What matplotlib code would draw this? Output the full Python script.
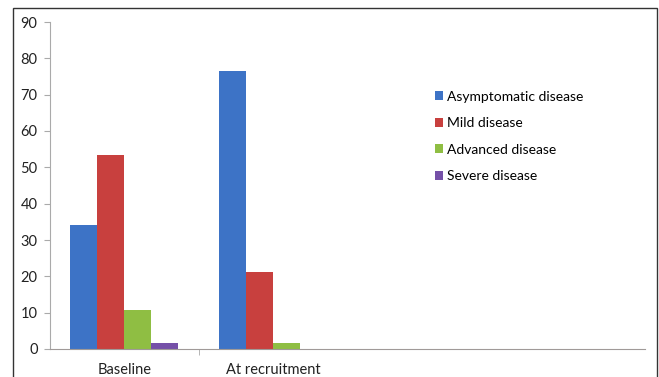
import numpy as np
import matplotlib
matplotlib.use('Agg')
import matplotlib.pyplot as plt
from matplotlib.patches import Rectangle

plt.rcParams['font.family'] = ['Lato', 'DejaVu Sans']

# Data
categories = ['Baseline', 'At recruitment', '', '']
series_names = ['Asymptomatic disease', 'Mild disease', 'Advanced disease', 'Severe disease']
asymptomatic = [34, 76.5, 0, 0]
mild = [53.5, 21.3, 0, 0]
advanced = [10.6, 1.6, 0, 0]
severe = [1.7, 0, 0, 0]
colors = ['#3d73c6', '#c8403e', '#8fbe43', '#7550a8']

fig = plt.figure(figsize=(6.59, 3.77), dpi=100)
ax = fig.add_axes([50 / 659, 1 - 349 / 377, 595 / 659, 327 / 377])

# outer chart frame
fig.patches.append(Rectangle((13 / 659, -0.05), 644 / 659, 1.05 - 8 / 377,
                             transform=fig.transFigure, fill=False,
                             edgecolor='#333333', linewidth=1.0))

n = len(series_names)
width = 1 / (n + 1.5)
x = np.arange(len(categories))
for i, (vals, name) in enumerate(zip([asymptomatic, mild, advanced, severe], series_names)):
    offs = (i - (n - 1) / 2) * width
    ax.bar(x + offs, vals, width, color=colors[i], label=name)

ax.set_xlim(-0.5, len(categories) - 0.5)
ax.set_ylim(0, 90)
ax.set_yticks(range(0, 91, 10))
ax.set_xticks(x)
ax.set_xticklabels(categories)
ax.set_xticks([0.5], minor=True)
ax.tick_params(axis='x', which='major', length=0, pad=10, labelsize=10.5, labelcolor='#222222')
ax.tick_params(axis='x', which='minor', length=4, color='#aaaaaa', direction='out')
ax.tick_params(axis='y', length=4, color='#aaaaaa', labelsize=10.5, labelcolor='#222222', pad=5)

for s in ['top', 'right']:
    ax.spines[s].set_visible(False)
ax.spines['left'].set_color('#aaaaaa')
ax.spines['bottom'].set_color('#a09a98')

leg = ax.legend(loc='upper left', bbox_to_anchor=(379 / 595, (349 - 85) / 327),
                frameon=False, fontsize=10, handlelength=0.6, handleheight=0.6,
                handletextpad=0.3, labelspacing=1.05, borderaxespad=0)

fig.savefig('out.png', dpi=100)
